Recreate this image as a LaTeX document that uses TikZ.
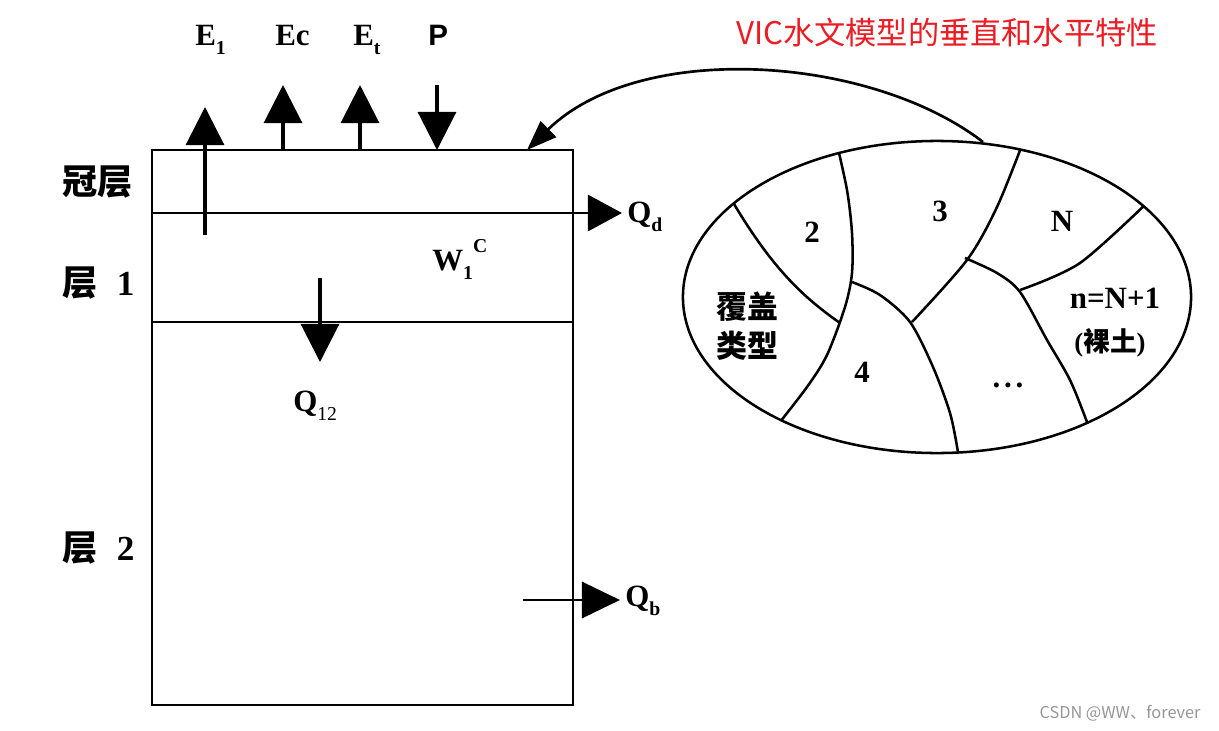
\documentclass[tikz,border=0pt]{standalone}
\usepackage{fontspec}
\setmainfont{Liberation Serif}
\newfontfamily\cjk{Noto Sans CJK SC}
\newfontfamily\sansb{Liberation Sans}
\usetikzlibrary{arrows.meta}
\newcommand\myfs[1]{\fontsize{#1}{#1}\selectfont}
\newcommand\mysub[1]{\raisebox{-0.3em}{\fontsize{14pt}{14pt}\selectfont #1}}
\newcommand\mysup[1]{\raisebox{0.55em}{\fontsize{14pt}{14pt}\selectfont #1}}
\definecolor{titlered}{RGB}{236,28,36}
\definecolor{wmgray}{RGB}{150,150,150}
\begin{document}
\begin{tikzpicture}[x=0.025cm,y=-0.025cm,
  lbl/.style={font=\myfs{22}\bfseries, inner sep=0},
  cjklbl/.style={font=\cjk\bfseries\myfs{25}, inner sep=0},
  bigarrow/.style={line width=2.2pt, -{Triangle[length=0.95cm,width=0.95cm]}},
  frameline/.style={line width=2.1pt},
  partline/.style={line width=1.8pt},
  linkarrow/.style={line width=1.9pt, -{Triangle[length=0.75cm,width=0.55cm]}}]
\useasboundingbox (0,0) rectangle (1219,731);

% title and watermark
\node[font=\cjk\myfs{22.2}, text=titlered, inner sep=0] (title) at (947,33) {VIC水文模型的垂直和水平特性};
\node[font=\cjk\myfs{11.6}, text=wmgray, inner sep=0] (wm) at (1120,713) {CSDN @WW、forever};

% soil column
\coordinate (tl) at (152,150);
\coordinate (br) at (573,705);
\draw[frameline] (tl) rectangle (br);
\coordinate (c1) at (152,213);
\coordinate (qdtip) at (622,213);
\draw[frameline, -{Triangle[length=0.85cm,width=0.9cm]}] (c1) -- (qdtip);
\coordinate (c2a) at (152,322);
\coordinate (c2b) at (573,322);
\draw[frameline] (c2a) -- (c2b);

% layer labels
\node[cjklbl, anchor=west] (canopy) at (62,182) {冠层};
\node[cjklbl, anchor=west] (layer1) at (62,283) {层\hspace{0.55em}{\rmfamily 1}};
\node[cjklbl, anchor=west] (layer2) at (62,548) {层\hspace{0.55em}{\rmfamily 2}};

% top fluxes
\node[lbl, anchor=base west] (E1) at (195,45) {E\mysub{1}};
\node[lbl, anchor=base west] (Ec) at (275,45) {Ec};
\node[lbl, anchor=base west] (Et) at (353,45) {E\mysub{t}};
\node[font=\sansb\bfseries\myfs{21}, inner sep=0, anchor=base west] (P) at (428,45) {P};

\coordinate (e1s) at (205,235);  \coordinate (e1t) at (205,107);
\coordinate (ecs) at (283,150);  \coordinate (ect) at (283,85);
\coordinate (ets) at (360,150);  \coordinate (ett) at (360,85);
\coordinate (ps)  at (437,85);   \coordinate (pt)  at (437,150);
\draw[bigarrow] (e1s) -- (e1t);
\draw[bigarrow] (ecs) -- (ect);
\draw[bigarrow] (ets) -- (ett);
\draw[bigarrow] (ps) -- (pt);

% internal fluxes
\node[lbl, anchor=base west] (Qd) at (627,222) {Q\mysub{d}};
\node[lbl, anchor=base west] (W1C) at (432,270) {W\mysub{1}\mysup{C}};
\coordinate (q12s) at (320,278); \coordinate (q12t) at (320,362);
\draw[bigarrow] (q12s) -- (q12t);
\node[lbl, anchor=base west] (Q12) at (293,411) {Q\mysub{\mdseries 12}};
\coordinate (qbs) at (523,600); \coordinate (qbt) at (620,600);
\draw[frameline, -{Triangle[length=0.95cm,width=0.9cm]}] (qbs) -- (qbt);
\node[lbl, anchor=base west] (Qb) at (625,606) {Q\mysub{b}};

% vegetation tile ellipse
\coordinate (ec) at (937,297);
\begin{scope}
\clip (ec) ellipse [x radius=6.35cm, y radius=3.9cm];
\draw[partline] (731,199) .. controls (770,265) and (800,295) .. (840,323);
\draw[partline] plot[smooth] coordinates {(836,140) (847,190) (852,233) (852,273) (845,307) (827,355) (807,387) (776,427)};
\draw[partline] plot[smooth] coordinates {(852,282) (880,295) (910,322) (933,367) (950,413) (958,452) (959,462)};
\draw[partline] plot[smooth] coordinates {(1024,140) (997,207) (967,260) (912,322)};
\draw[partline] plot[smooth] coordinates {(965,258) (997,273) (1020,292) (1047,340) (1070,380) (1087,422) (1090,432)};
\draw[partline] plot[smooth] coordinates {(1150,200) (1080,263) (1020,290)};
\end{scope}
\draw[partline] (ec) ellipse [x radius=6.35cm, y radius=3.9cm];

\node[lbl] (t2) at (812,232) {2};
\node[lbl] (t3) at (940,211) {3};
\node[lbl] (tN) at (1062,221) {N};
\node[cjklbl, font=\cjk\bfseries\myfs{22}, align=center, execute at begin node={\baselineskip=28pt}] (cover) at (747,326) {覆盖\\类型};
\node[lbl] (t4) at (862,372) {4};
\node[lbl, anchor=base] (tdots) at (1008,387) {.\hspace{0.12em}.\hspace{0.12em}.};
\node[lbl] (tn) at (1115,298) {n=N+1};
\node[font=\bfseries\myfs{19}, inner sep=0] (bare) at (1110,343) {({\cjk 裸土})};

% link arrow
\coordinate (lstart) at (983,142);
\coordinate (lend) at (527,150);
\draw[linkarrow] (lstart) .. controls (870,55) and (640,40) .. (lend);
\end{tikzpicture}
\end{document}
